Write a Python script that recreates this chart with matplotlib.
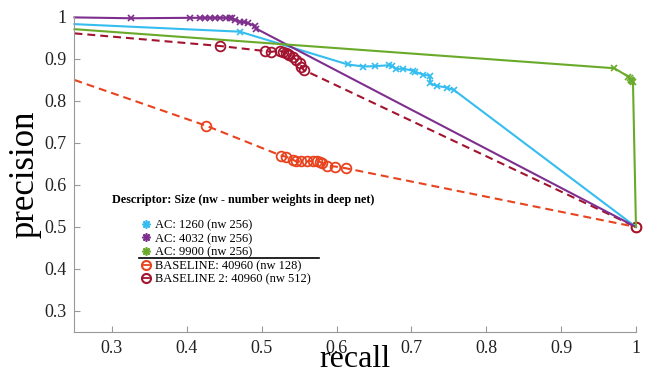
import matplotlib
matplotlib.use("Agg")
import matplotlib.pyplot as plt
from matplotlib.lines import Line2D

plt.rcParams["font.family"] = ["Liberation Serif", "DejaVu Serif"]

# AC: 1260 (nw 256)
ac1260_recall = [0.25, 0.471, 0.615, 0.636, 0.652, 0.670, 0.674, 0.680, 0.689, 0.702,
                 0.705, 0.715, 0.725, 0.725, 0.734, 0.747, 0.757, 1.0]
ac1260_prec = [0.983, 0.965, 0.887, 0.882, 0.883, 0.885, 0.884, 0.876, 0.877, 0.872,
               0.870, 0.863, 0.860, 0.842, 0.836, 0.832, 0.826, 0.5]

# AC: 4032 (nw 256)
ac4032_recall = [0.25, 0.325, 0.404, 0.417, 0.424, 0.431, 0.438, 0.445, 0.452, 0.458,
                 0.461, 0.465, 0.471, 0.477, 0.482, 0.491, 0.493, 1.0]
ac4032_prec = [0.999, 0.997, 0.998, 0.998, 0.998, 0.998, 0.998, 0.998, 0.998, 0.998,
               0.997, 0.993, 0.989, 0.987, 0.985, 0.979, 0.972, 0.5]

# AC: 9900 (nw 256)
ac9900_recall = [0.25, 0.971, 0.990, 0.992, 0.993, 0.994, 0.995, 0.996, 1.0]
ac9900_prec = [0.971, 0.878, 0.858, 0.854, 0.851, 0.849, 0.847, 0.845, 0.5]

# BASELINE: 40960 (nw 128)
base_recall = [0.25, 0.426, 0.526, 0.533, 0.542, 0.546, 0.552, 0.560, 0.568, 0.574,
               0.578, 0.580, 0.587, 0.598, 0.612, 1.0]
base_prec = [0.85, 0.741, 0.670, 0.667, 0.660, 0.656, 0.656, 0.656, 0.657, 0.657,
             0.655, 0.653, 0.646, 0.644, 0.640, 0.5]

# BASELINE 2: 40960 (nw 512)
base2_recall = [0.25, 0.444, 0.504, 0.513, 0.524, 0.528, 0.532, 0.535, 0.537, 0.542,
                0.546, 0.551, 0.553, 0.556, 1.0]
base2_prec = [0.961, 0.931, 0.919, 0.917, 0.920, 0.917, 0.915, 0.912, 0.910, 0.905,
              0.898, 0.890, 0.882, 0.874, 0.5]

labels = ["AC: 1260 (nw 256)", "AC: 4032 (nw 256)", "AC: 9900 (nw 256)",
          "BASELINE: 40960 (nw 128)", "BASELINE 2: 40960 (nw 512)"]
colors = ["#35BDEF", "#7E2F8E", "#6AAA2A", "#E8431E", "#A2142F"]

xticks = [0.3, 0.4, 0.5, 0.6, 0.7, 0.8, 0.9, 1.0]
xtick_labels = ["0.3", "0.4", "0.5", "0.6", "0.7", "0.8", "0.9", "1"]
yticks = [0.3, 0.4, 0.5, 0.6, 0.7, 0.8, 0.9, 1.0]
ytick_labels = ["0.3", "0.4", "0.5", "0.6", "0.7", "0.8", "0.9", "1"]

fig = plt.figure(figsize=(6.45, 3.75), dpi=100)
ax = fig.add_axes([0.1155, 0.1147, 0.8705, 0.84])

dash = (3.8, 2.4)
ax.plot(base_recall, base_prec, color=colors[3], lw=1.5, dashes=dash, marker="o",
        mfc="none", ms=7, mew=1.3, markevery=slice(1, None), clip_on=False)
ax.plot(base2_recall, base2_prec, color=colors[4], lw=1.5, dashes=dash, marker="o",
        mfc="none", ms=7, mew=1.3, markevery=slice(1, None), clip_on=False)
ax.plot(ac1260_recall, ac1260_prec, color=colors[0], lw=1.5, marker="x", ms=5,
        mew=1.2, markevery=slice(1, -1), clip_on=False)
ax.plot(ac4032_recall, ac4032_prec, color=colors[1], lw=1.5, marker="x", ms=5,
        mew=1.2, markevery=slice(1, -1), clip_on=False)
ax.plot(ac9900_recall, ac9900_prec, color=colors[2], lw=1.5, marker="x", ms=5,
        mew=1.2, markevery=slice(1, -1), clip_on=False)

ax.set_xlim(0.25, 1.0)
ax.set_ylim(0.25, 1.0)
ax.set_xticks(xticks)
ax.set_xticklabels(xtick_labels)
ax.set_yticks(yticks)
ax.set_yticklabels(ytick_labels)
ax.tick_params(direction="in", length=4, width=0.8, color="#999999",
               labelsize=13, labelcolor="#222222", pad=6)
for s in ["top", "right"]:
    ax.spines[s].set_visible(False)
for s in ["left", "bottom"]:
    ax.spines[s].set_color("#999999")
    ax.spines[s].set_linewidth(0.8)

ax.set_xlabel("recall", fontsize=23, labelpad=-9)
ax.set_ylabel("precision", fontsize=25, labelpad=2)

ax.text(0.067, 0.418, "Descriptor: Size (nw - number weights in deep net)",
        transform=ax.transAxes, fontsize=8.7, fontweight="bold", va="center")

handles = []
for c in colors[:3]:
    handles.append(Line2D([], [], ls="none", marker=(8, 2, 0), ms=6, mew=1.2, color=c))
for c in colors[3:]:
    handles.append(Line2D([], [], ls="-", lw=1.3, marker="o", mfc="none", ms=6.5,
                          mew=1.5, color=c))
ax.legend(handles, labels, loc="upper left", bbox_to_anchor=(0.122, 0.358),
          frameon=False, fontsize=9, handlelength=0.5, handletextpad=0.45,
          labelspacing=0.13, borderpad=0, borderaxespad=0)

ax.add_line(Line2D([0.115, 0.435], [0.234, 0.234], transform=ax.transAxes,
                   color="black", lw=1.2))

fig.savefig("out.png", dpi=100)
